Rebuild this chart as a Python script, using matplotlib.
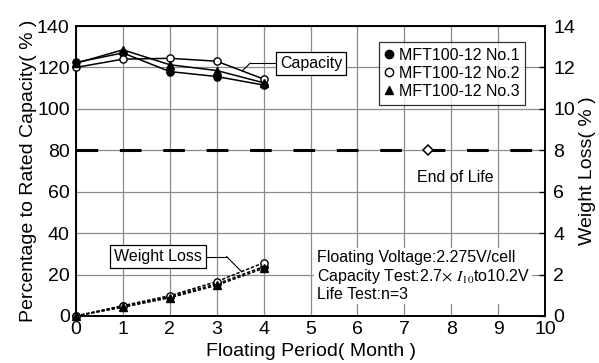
import matplotlib
matplotlib.use("Agg")
import matplotlib.pyplot as plt
from matplotlib.lines import Line2D

plt.rcParams['font.family'] = ['Liberation Sans', 'DejaVu Sans']
plt.rcParams['mathtext.fontset'] = 'stix'

months = [0, 1, 2, 3, 4]
cap_no1 = [122.4, 127.0, 118.0, 115.6, 111.5]
cap_no2 = [120.0, 124.0, 124.4, 123.0, 114.4]
cap_no3 = [122.0, 128.5, 121.3, 118.5, 112.6]
wl_no1 = [0.0, 0.47, 0.93, 1.55, 2.38]
wl_no2 = [0.0, 0.50, 0.98, 1.66, 2.57]
wl_no3 = [0.0, 0.42, 0.88, 1.48, 2.30]
end_of_life = 80
eol_point = (7.5, 80)
labels = ["MFT100-12 No.1", "MFT100-12 No.2", "MFT100-12 No.3"]

fig = plt.figure(figsize=(5.99, 3.63), dpi=100)
ax = fig.add_axes([76/599, 47/363, 469/599, 290/363])
ax2 = ax.twinx()

ax.set_xlim(0, 10)
ax.set_ylim(0, 140)
ax2.set_ylim(0, 14)
ax.set_xticks(range(0, 11))
ax.set_yticks(range(0, 141, 20))
ax2.set_yticks(range(0, 15, 2))
ax.grid(True, color='#8c8c8c', lw=0.9)
ax.set_axisbelow(True)

fs = 14
ax.tick_params(axis='x', labelsize=fs, length=0, pad=3.5)
ax.tick_params(axis='y', labelsize=fs, length=0, pad=4.5)
ax2.tick_params(axis='y', labelsize=fs, direction='in', length=4, width=0.9, pad=6)
for a in (ax, ax2):
    for s in a.spines.values():
        s.set_linewidth(1.2)
        s.set_color('black')

ax.set_ylabel("Percentage to Rated Capacity( % )", fontsize=fs, labelpad=0)
ax2.set_ylabel("Weight Loss( % )", fontsize=fs, labelpad=3)
ax.set_xlabel("Floating Period( Month )", fontsize=fs, labelpad=3.5)

styles = [dict(marker='o', mfc='black', mec='black'),
          dict(marker='o', mfc='white', mec='black'),
          dict(marker='^', mfc='black', mec='black')]

# End of life line
ax.axhline(end_of_life, color='black', lw=2.2, dashes=(7.1, 7.1), zorder=2)
ax.plot([eol_point[0]], [eol_point[1]], marker='D', ms=5.5, mfc='white', mec='black', mew=1.1, zorder=4, clip_on=False)

for data, st in zip([cap_no1, cap_no2, cap_no3], styles):
    ax2.plot(months, [v / 10 for v in data], color='black', lw=1.1, ms=5.2, mew=1.0, clip_on=False, zorder=3, **st)
for data, st in zip([wl_no1, wl_no2, wl_no3], styles):
    ax2.plot(months, data, color='black', lw=1.1, ls=(0, (2.2, 1.2)), ms=5.2, mew=1.0, clip_on=False, zorder=3, **st)

# annotations
ax.text(8.08, 67, "End of Life", fontsize=11.5, ha='center', va='center')
ax.plot([3.71, 4.24], [122, 122], color='black', lw=0.8)
ax.plot([3.55, 3.71], [118.4, 122], color='black', lw=0.8)
ax2.text(5.01, 12.2, "Capacity", fontsize=11.5, ha='center', va='center', zorder=5,
         bbox=dict(boxstyle='square,pad=0.25', fc='white', ec='black', lw=0.9))
ax.plot([2.79, 3.21], [28.7, 28.7], color='black', lw=0.8)
ax.plot([3.21, 3.53], [28.7, 21.4], color='black', lw=0.8)
ax2.text(1.75, 2.87, "Weight Loss", fontsize=11.5, ha='center', va='center', zorder=5,
         bbox=dict(boxstyle='square,pad=0.25', fc='white', ec='black', lw=0.9))

ax2.text(5.13, 1.93,
         "Floating Voltage:2.275V/cell\nCapacity Test:2.7$\\times$ $I_{10}$to10.2V\nLife Test:n=3",
         fontsize=11.5, ha='left', va='center', linespacing=1.12, zorder=5,
         bbox=dict(boxstyle='square,pad=0.15', fc='white', ec='none'))

handles = [Line2D([], [], ls='none', ms=6, color='black', **st) for st in styles]
leg = ax2.legend(handles, labels, loc='upper right', bbox_to_anchor=(0.957, 0.945),
                 fontsize=11.5, frameon=True, fancybox=False, handlelength=0.6,
                 handletextpad=0.3, borderpad=0.35, labelspacing=0.2, borderaxespad=0)
leg.get_frame().set_edgecolor('black')
leg.get_frame().set_linewidth(0.9)
leg.set_zorder(6)

fig.savefig("out.png", dpi=100)
